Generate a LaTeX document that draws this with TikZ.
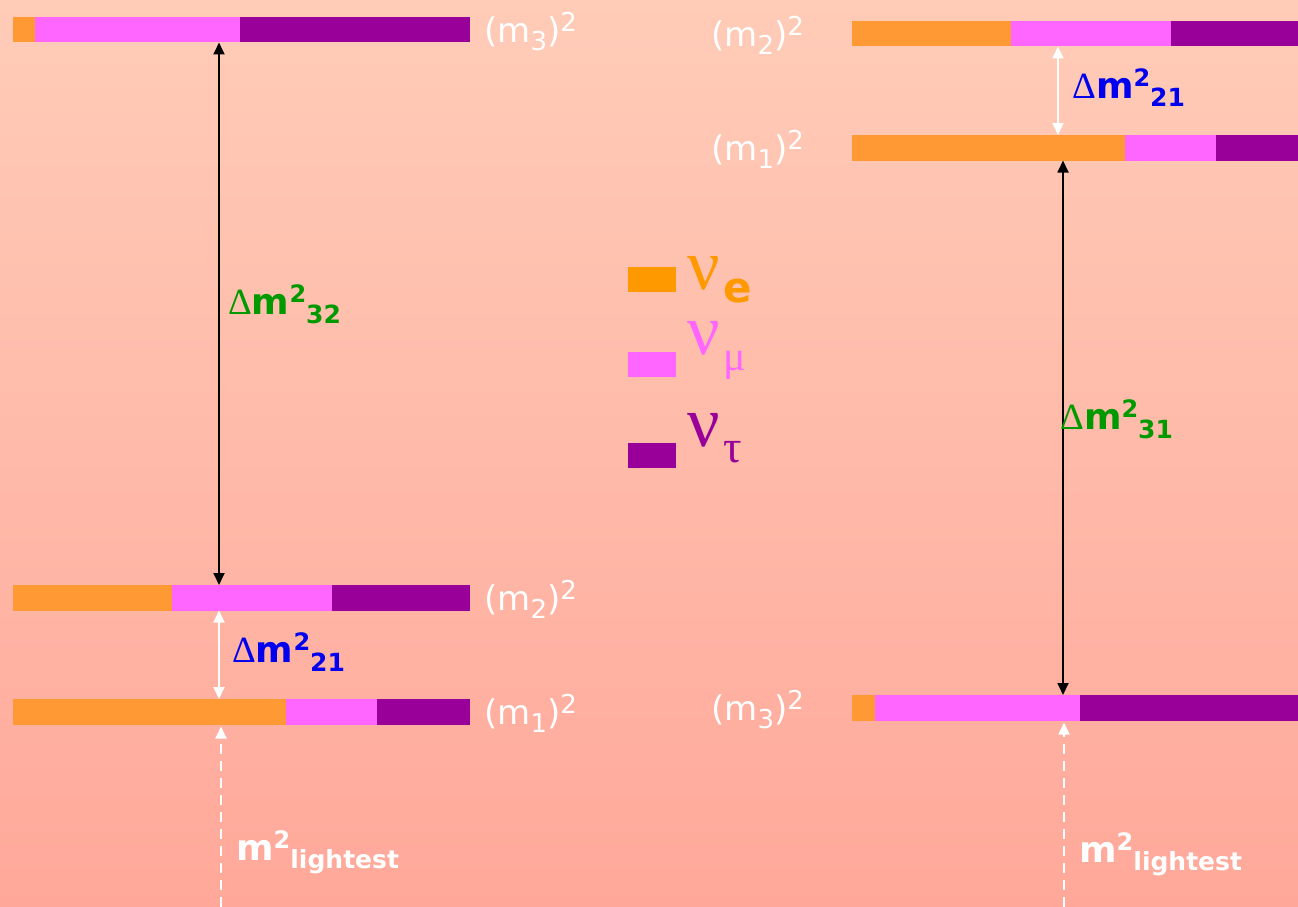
\documentclass[tikz,border=0pt]{standalone}
\usepackage{fontspec}
\setmainfont{DejaVu Sans}
\newfontfamily\greekserif{Liberation Serif}
\usetikzlibrary{arrows.meta}

\definecolor{bgtop}{RGB}{255,204,184}
\definecolor{bgbot}{RGB}{255,168,154}
\definecolor{nue}{RGB}{255,153,51}
\definecolor{numu}{RGB}{255,102,255}
\definecolor{nutau}{RGB}{153,0,153}
\definecolor{legE}{RGB}{255,153,0}
\definecolor{dgreen}{RGB}{0,153,0}
\definecolor{dblue}{RGB}{0,0,238}

% mass level bar: name, top y, x0, x1 (e|mu), x2 (mu|tau), x3 (end)
\newcommand\levelbar[6]{%
  \node[seg,fill=nue,minimum width={#4-#3}] (#1o) at (#3,#2) {};
  \node[seg,fill=numu,minimum width={#5-#4}] (#1p) at (#4,#2) {};
  \node[seg,fill=nutau,minimum width={#6-#5}] (#1u) at (#5,#2) {};}

% (m_i)^2 label
\newcommand\masslabel[1]{(m\raisebox{-8pt}{\fontsize{26}{26}\selectfont #1})\raisebox{11pt}{\fontsize{26}{26}\selectfont 2}}

% Delta m^2_ij label
\newcommand\dmsq[1]{{\greekserif\fontsize{37}{37}\selectfont Δ}{\fontsize{36}{36}\selectfont\bfseries m\raisebox{12pt}{\fontsize{24}{24}\selectfont 2}\raisebox{-9pt}{\fontsize{25}{25}\selectfont #1}}}

% m^2_lightest label
\newcommand\lightlabel{{\fontsize{36}{36}\selectfont\bfseries m\raisebox{12pt}{\fontsize{24}{24}\selectfont 2}\raisebox{-8pt}{\fontsize{25}{25}\selectfont lightest}}}

\begin{document}
\begin{tikzpicture}[x=1pt,y=-1pt,
  seg/.style={inner sep=0pt,outer sep=0pt,anchor=north west,minimum height=25.5pt},
  mlab/.style={inner sep=0pt,anchor=west,text=white,font=\fontsize{34}{40}\selectfont},
  dlab/.style={inner sep=0pt,anchor=base west},
  legbox/.style={inner sep=0pt,outer sep=0pt,anchor=north west,minimum width=48pt,minimum height=25pt},
  dblarrow/.style={line width=1.8pt,{Triangle[width=11pt,length=12pt]}-{Triangle[width=11pt,length=12pt]}},
  dashline/.style={white,line width=1.8pt,dash pattern=on 10pt off 7pt,-{Triangle[width=11pt,length=12pt]},shorten >=2pt}]

\useasboundingbox (0,0) rectangle (1298,907);
\shade[top color=bgtop,bottom color=bgbot] (0,0) rectangle (1298,907);

% normal ordering
\levelbar{L3}{17}{13}{35}{240}{470}
\levelbar{L2}{585}{13}{172}{332}{470}
\levelbar{L1}{699}{13}{286}{377}{470}
\node[mlab] (mL3) at (484,32) {\masslabel{3}};
\node[mlab] (mL2) at (484,599) {\masslabel{2}};
\node[mlab] (mL1) at (484,713) {\masslabel{1}};

% inverted ordering
\levelbar{R2}{21}{852}{1011}{1171}{1298}
\levelbar{R1}{135}{852}{1125}{1216}{1298}
\levelbar{R3}{695}{852}{875}{1080}{1298}
\node[mlab] (mR2) at (711,35) {\masslabel{2}};
\node[mlab] (mR1) at (711,149) {\masslabel{1}};
\node[mlab] (mR3) at (711,710) {\masslabel{3}};

% splittings
\coordinate (xL) at (219,0);
\coordinate (bL) at (221,907);
\draw[dblarrow,black] (L3p.south -| xL) -- (L2p.north -| xL);
\draw[dblarrow,white] (L2p.south -| xL) -- (L1o.north -| xL);
\draw[dashline] (bL) -- (L1o.south -| bL);

\coordinate (xRw) at (1058,0);
\coordinate (xRb) at (1063,0);
\coordinate (bR) at (1064,907);
\draw[dblarrow,white] (R2o.south -| xRw) -- (R1o.north -| xRw);
\draw[dblarrow,black] (R1o.south -| xRb) -- (R3p.north -| xRb);
\draw[dashline] (bR) -- (R3p.south -| bR);

\node[dlab,text=dgreen] (d32) at (228,314) {\dmsq{32}};
\node[dlab,text=dblue] (d21L) at (232,662) {\dmsq{21}};
\node[dlab,text=dblue] (d21R) at (1072,98) {\dmsq{21}};
\node[dlab,text=dgreen] (d31) at (1060,429) {\dmsq{31}};

\node[dlab,text=white] (lightL) at (236,860) {\lightlabel};
\node[dlab,text=white] (lightR) at (1079,862) {\lightlabel};

% flavour legend
\node[legbox,fill=legE] (ke) at (628,267) {};
\node[legbox,fill=numu] (kmu) at (628,352) {};
\node[legbox,fill=nutau] (ktau) at (628,443) {};
\node[dlab,text=legE] (nue) at (687,289) {\greekserif\fontsize{72}{72}\selectfont ν};
\node[dlab,text=legE] (sube) at (723,302) {\fontsize{42}{42}\selectfont\bfseries e};
\node[dlab,text=numu] (numu) at (687,354) {\greekserif\fontsize{72}{72}\selectfont ν};
\node[dlab,text=numu] (submu) at (723,370) {\greekserif\fontsize{42}{42}\selectfont μ};
\node[dlab,text=nutau] (nutau) at (687,446) {\greekserif\fontsize{72}{72}\selectfont ν};
\node[dlab,text=nutau] (subtau) at (723,462) {\greekserif\fontsize{46}{46}\selectfont τ};
\end{tikzpicture}
\end{document}
